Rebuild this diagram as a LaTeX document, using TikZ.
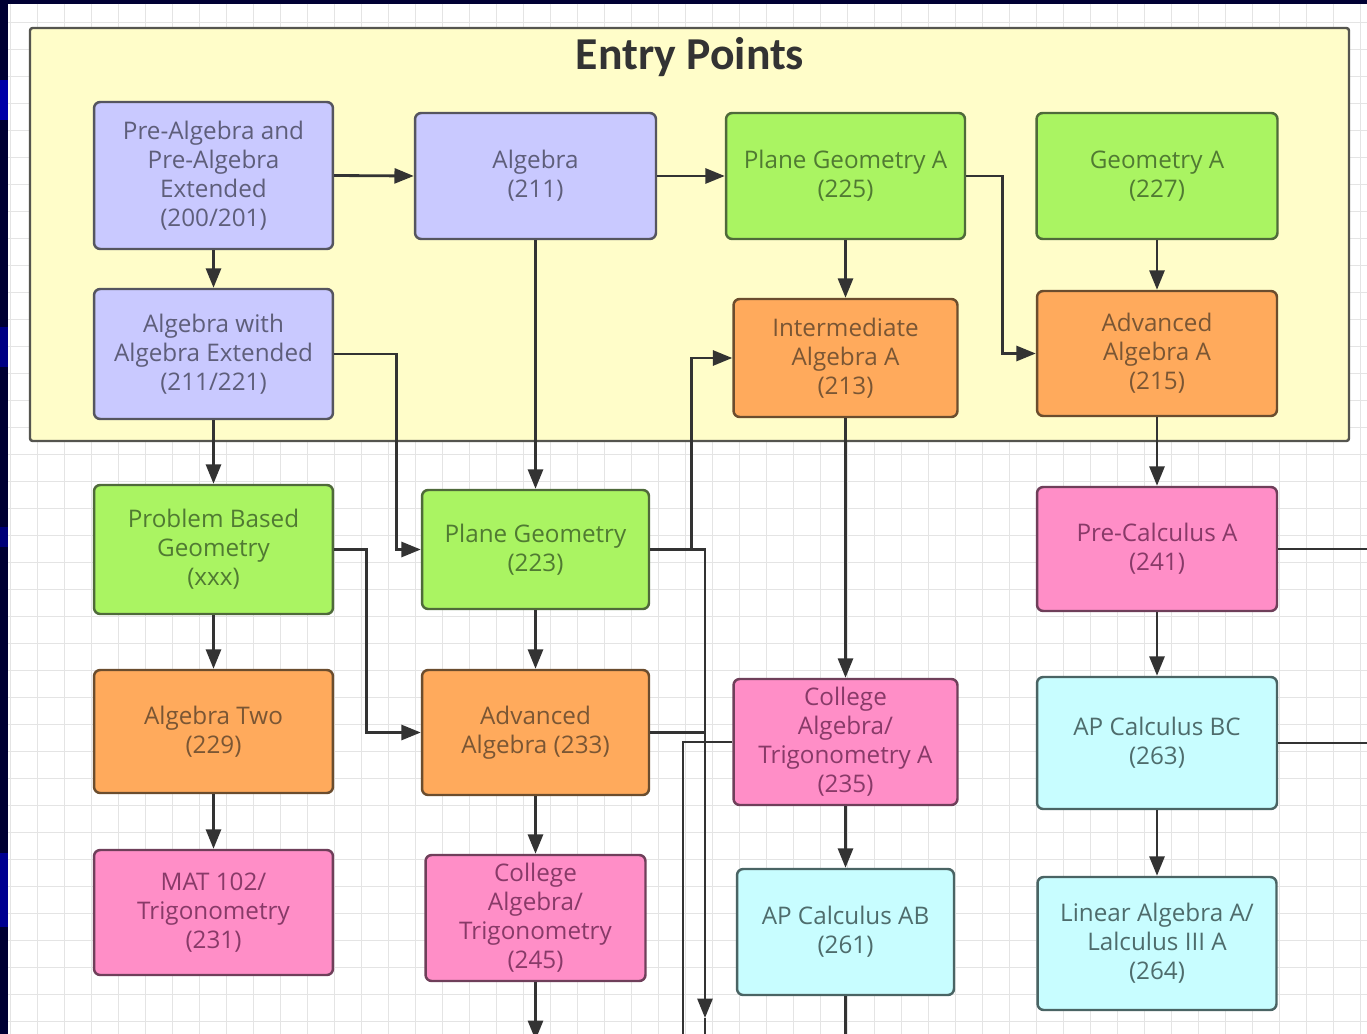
\documentclass[tikz,border=0pt]{standalone}
\usepackage{fontspec}
\setmainfont{Open Sans}
\newfontfamily\titlefont{Carlito}
\usetikzlibrary{arrows.meta}

\definecolor{slide}{HTML}{000033}
\definecolor{slideblue}{HTML}{0000A8}
\definecolor{gridgray}{HTML}{E4E4E4}
\definecolor{entryfill}{HTML}{FFFDC9}
\definecolor{entryline}{HTML}{55554F}
\definecolor{linkgray}{HTML}{333333}
\definecolor{lavfill}{HTML}{C9C9FF}
\definecolor{lavline}{HTML}{55555F}
\definecolor{lavtext}{HTML}{5E5E7A}
\definecolor{grnfill}{HTML}{AAF462}
\definecolor{grnline}{HTML}{4F6A3A}
\definecolor{grntext}{HTML}{507A32}
\definecolor{orgfill}{HTML}{FFAA5C}
\definecolor{orgline}{HTML}{6B4D2E}
\definecolor{orgtext}{HTML}{7A5634}
\definecolor{pnkfill}{HTML}{FF8EC7}
\definecolor{pnkline}{HTML}{6F3F5A}
\definecolor{pnktext}{HTML}{883A68}
\definecolor{cyafill}{HTML}{C8FDFF}
\definecolor{cyaline}{HTML}{4A6464}
\definecolor{cyatext}{HTML}{4E6C6C}

\begin{document}
\begin{tikzpicture}[x=0.02cm, y=-0.02cm, >={Triangle[length=11pt,width=8.5pt]},
  course/.style={draw, rounded corners=3.5pt, line width=1.4pt, align=center,
    inner sep=2pt, font=\fontsize{13.8}{16.5}\selectfont},
  lav/.style={course, fill=lavfill, draw=lavline, text=lavtext},
  grn/.style={course, fill=grnfill, draw=grnline, text=grntext},
  org/.style={course, fill=orgfill, draw=orgline, text=orgtext},
  pnk/.style={course, fill=pnkfill, draw=pnkline, text=pnktext},
  cya/.style={course, fill=cyafill, draw=cyaline, text=cyatext},
  link/.style={line width=1.6pt, draw=linkgray},
  gridline/.style={line width=0.5pt, draw=gridgray}]

\useasboundingbox (0,0) rectangle (1367,1034);

% slide behind the canvas
\fill[slide] (0,0) rectangle (1367,1034);
\fill[slideblue] (0,80) rectangle (8,120);
\fill[slideblue!70!slide] (0,327) rectangle (8,367);
\fill[slideblue!60!slide] (0,527) rectangle (8,547);
\fill[slideblue!80!slide] (0,853) rectangle (8,927);
\fill[white] (8,4) rectangle (1367,1034);

\foreach \x in {10,37,...,1367} {
        \draw[gridline] (\x,4) -- (\x,1034);
    }
\foreach \y in {22,49,...,1034} {
        \draw[gridline] (8,\y) -- (1367,\y);
    }

% entry points panel
\draw[fill=entryfill, draw=entryline, line width=1.4pt, rounded corners=1.5pt] (30,28) rectangle (1349,441);
\node[font=\titlefont\bfseries\fontsize{26}{30}\selectfont, text=linkgray] (title) at (690,57) {Entry Points};

\node[lav, minimum width=4.78cm, minimum height=2.94cm] (prealg) at (213.5,175.5) {Pre-Algebra and\\Pre-Algebra\\Extended\\(200/201)};
\node[lav, minimum width=4.82cm, minimum height=2.52cm] (alg) at (535.5,176) {Algebra\\(211)};
\node[grn, minimum width=4.78cm, minimum height=2.52cm] (pgA) at (845.5,176) {Plane Geometry A\\(225)};
\node[grn, minimum width=4.82cm, minimum height=2.52cm] (geoA) at (1157,176) {Geometry A\\(227)};
\node[lav, minimum width=4.78cm, minimum height=2.60cm] (algext) at (213.5,354) {Algebra with\\Algebra Extended\\(211/221)};
\node[org, minimum width=4.48cm, minimum height=2.36cm] (intA) at (845.5,358) {Intermediate\\Algebra A\\(213)};
\node[org, minimum width=4.80cm, minimum height=2.50cm] (advA) at (1157,353.5) {Advanced\\Algebra A\\(215)};

% lower courses
\node[grn, minimum width=4.78cm, minimum height=2.58cm] (pbg) at (213.5,549.5) {Problem Based\\Geometry\\(xxx)};
\node[grn, minimum width=4.54cm, minimum height=2.38cm] (pg) at (535.5,549.5) {Plane Geometry\\(223)};
\node[pnk, minimum width=4.80cm, minimum height=2.48cm] (precalc) at (1157,549) {Pre-Calculus A\\(241)};
\node[org, minimum width=4.78cm, minimum height=2.46cm] (alg2) at (213.5,731.5) {Algebra Two\\(229)};
\node[org, minimum width=4.54cm, minimum height=2.50cm] (advalg) at (535.5,732.5) {Advanced\\Algebra (233)};
\node[pnk, minimum width=4.48cm, minimum height=2.52cm] (colalgA) at (845.5,742) {College\\Algebra/\\Trigonometry A\\(235)};
\node[cya, minimum width=4.80cm, minimum height=2.64cm] (apbc) at (1157,743) {AP Calculus BC\\(263)};
\node[pnk, minimum width=4.78cm, minimum height=2.50cm] (mat102) at (213.5,912.5) {MAT 102/\\Trigonometry\\(231)};
\node[pnk, minimum width=4.40cm, minimum height=2.52cm] (colalg) at (535.5,918) {College\\Algebra/\\Trigonometry\\(245)};
\node[cya, minimum width=4.34cm, minimum height=2.52cm] (apab) at (845.5,932) {AP Calculus AB\\(261)};
\node[cya, minimum width=4.78cm, minimum height=2.66cm] (linalg) at (1157,943.5) {Linear Algebra A/\\Lalculus III A\\(264)};

% free ends at the canvas edge
\coordinate (outA) at (705,1018);
\coordinate (outAend) at (705,1034);
\coordinate (outB) at (683,1034);
\coordinate (outC) at (845.5,1034);
\coordinate (outD) at (535.5,1040);
\coordinate (rim) at (1367,0);

\draw[link,->] (prealg.east) -- (alg.west);
\draw[link,->] (alg.east) -- (pgA.west);
\draw[link,->] (prealg.south) -- (algext.north);
\draw[link,->] (pgA.south) -- (intA.north);
\draw[link,->] (geoA.south) -- (advA.north);
\draw[link,->] (pgA.east) -- ++(36,0) |- (advA.west);
\draw[link,->] (algext.east) -- ++(62,0) |- (pg.west);
\draw[link,->] (alg.south) -- (pg.north);
\draw[link,->] (algext.south) -- (pbg.north);
\draw[link,->] (advA.south) -- (precalc.north);

\draw[link,->] (pg.east) -- ++(41,0) |- (intA.west);
\draw[link,->] (pg.east) -| (outA);
\draw[link] (outA) -- (outAend);
\draw[link] (advalg.east) -- (advalg.east -| outA);
\draw[link] (colalgA.west) -| (outB);
\draw[link,->] (pbg.east) -- ++(32,0) |- (advalg.west);

\draw[link,->] (pbg.south) -- (alg2.north);
\draw[link,->] (alg2.south) -- (mat102.north);
\draw[link,->] (pg.south) -- (advalg.north);
\draw[link,->] (advalg.south) -- (colalg.north);
\draw[link,->] (colalg.south) -- (outD);
\draw[link,->] (intA.south) -- (colalgA.north);
\draw[link,->] (colalgA.south) -- (apab.north);
\draw[link] (apab.south) -- (outC);
\draw[link,->] (precalc.south) -- (apbc.north);
\draw[link,->] (apbc.south) -- (linalg.north);
\draw[link] (precalc.east) -- (precalc.east -| rim);
\draw[link] (apbc.east) -- (apbc.east -| rim);

\end{tikzpicture}
\end{document}
